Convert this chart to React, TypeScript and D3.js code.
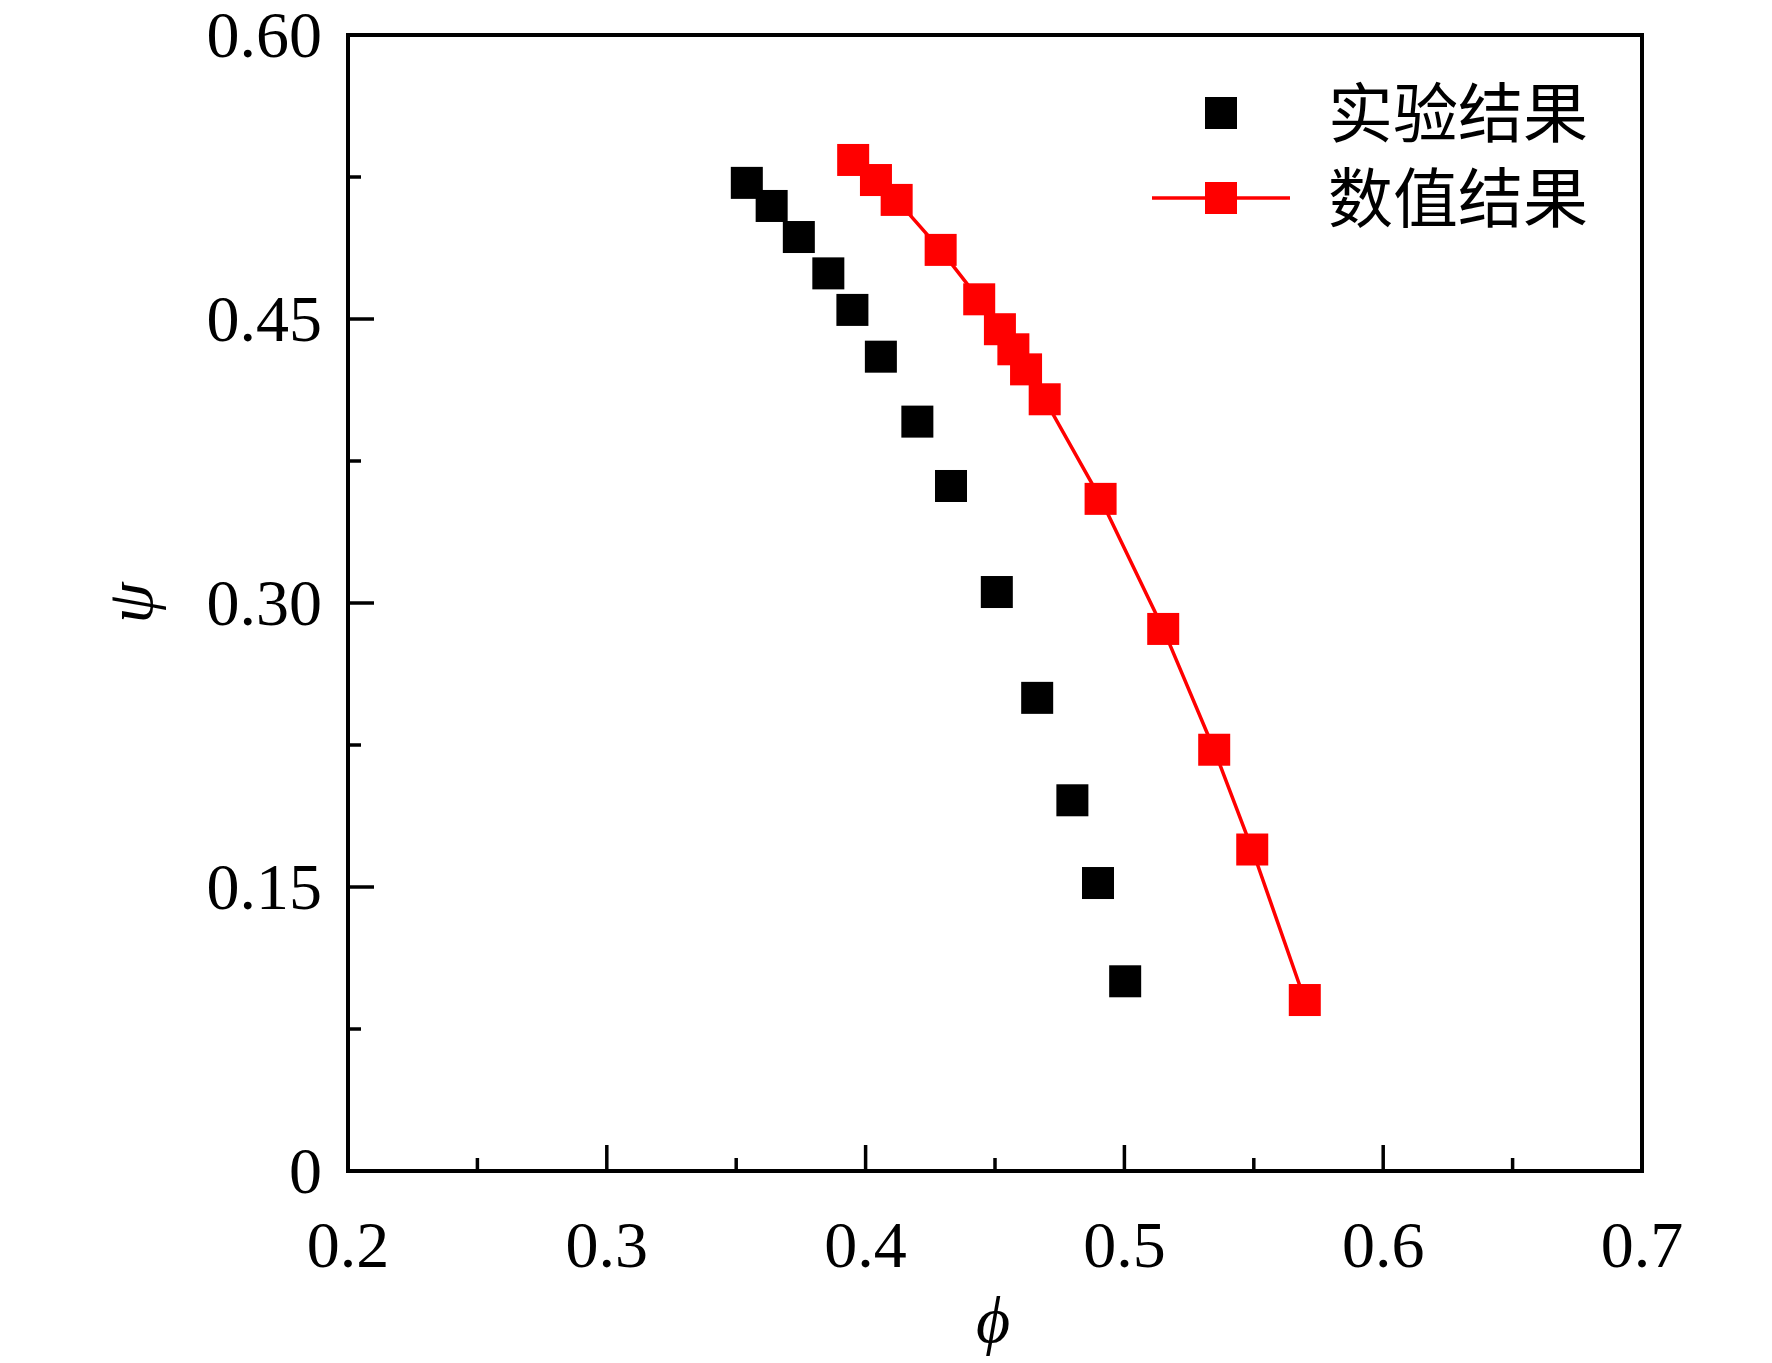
import React from "react";
import * as d3 from "d3";

const expPhi = [0.3541, 0.3637, 0.3742, 0.3856, 0.3949, 0.4059, 0.42, 0.433, 0.4507, 0.4663, 0.4799, 0.4898, 0.5003];
const expPsi = [0.5219, 0.5097, 0.4933, 0.4741, 0.4548, 0.4301, 0.3958, 0.3618, 0.3058, 0.2499, 0.1958, 0.1521, 0.1002];

const numPhi = [0.3952, 0.404, 0.412, 0.429, 0.4439, 0.4519, 0.4571, 0.462, 0.4692, 0.4908, 0.515, 0.5347, 0.5494, 0.5697];
const numPsi = [0.534, 0.5234, 0.5129, 0.4865, 0.4604, 0.4446, 0.434, 0.4234, 0.4076, 0.355, 0.2863, 0.2225, 0.1698, 0.0903];

const xMajorTicks = [0.2, 0.3, 0.4, 0.5, 0.6, 0.7];
const xMinorTicks = [0.25, 0.35, 0.45, 0.55, 0.65];
const yMajorTicks = [0, 0.15, 0.3, 0.45, 0.6];
const yMinorTicks = [0.075, 0.225, 0.375, 0.525];
const yTickLabels = ["0", "0.15", "0.30", "0.45", "0.60"];

const seriesNames = ["实验结果", "数值结果"];

const W = 1772;
const H = 1363;
const left = 348;
const right = 1642;
const top = 35;
const bottom = 1171;

export default function App() {
  const x = d3.scaleLinear().domain([0.2, 0.7]).range([left, right]);
  const y = d3.scaleLinear().domain([0, 0.6]).range([bottom, top]);
  const sq = 32;
  const numPts = numPhi.map((p, i) => [p, numPsi[i]] as [number, number]);
  const line = d3
    .line<[number, number]>()
    .x((d) => x(d[0]))
    .y((d) => y(d[1]));
  const serif = "'Liberation Serif', 'Times New Roman', serif";
  const cjk = "'Noto Sans CJK SC', sans-serif";
  const fs = 66;

  return (
    <svg
      width={W}
      height={H}
      viewBox={`0 0 ${W} ${H}`}
      style={{ position: "absolute", left: 0, top: 0, background: "#fff" }}
    >
      <rect x={0} y={0} width={W} height={H} fill="#fff" />
      {xMajorTicks.map((t) => (
        <line key={"xm" + t} x1={x(t)} x2={x(t)} y1={bottom} y2={bottom - 26} stroke="#000" strokeWidth={3.5} />
      ))}
      {xMinorTicks.map((t) => (
        <line key={"xn" + t} x1={x(t)} x2={x(t)} y1={bottom} y2={bottom - 13} stroke="#000" strokeWidth={3.5} />
      ))}
      {yMajorTicks.map((t) => (
        <line key={"ym" + t} x1={left} x2={left + 26} y1={y(t)} y2={y(t)} stroke="#000" strokeWidth={3.5} />
      ))}
      {yMinorTicks.map((t) => (
        <line key={"yn" + t} x1={left} x2={left + 13} y1={y(t)} y2={y(t)} stroke="#000" strokeWidth={3.5} />
      ))}
      <rect x={left} y={top} width={right - left} height={bottom - top} fill="none" stroke="#000" strokeWidth={4} />
      {xMajorTicks.map((t) => (
        <text key={"xl" + t} x={x(t)} y={1267} textAnchor="middle" fontFamily={serif} fontSize={fs} fill="#000">
          {t.toFixed(1)}
        </text>
      ))}
      {yMajorTicks.map((t, i) => (
        <text
          key={"yl" + t}
          x={322}
          y={y(t)}
          dy="0.34em"
          textAnchor="end"
          fontFamily={serif}
          fontSize={fs}
          fill="#000"
        >
          {yTickLabels[i]}
        </text>
      ))}
      <text x={(left + right) / 2 - 2} y={1342} textAnchor="middle" fontFamily={serif} fontStyle="italic" fontSize={fs} fill="#000">
        ϕ
      </text>
      <text
        transform={`translate(152, ${(top + bottom) / 2}) rotate(-90)`}
        textAnchor="middle"
        fontFamily={serif}
        fontStyle="italic"
        fontSize={fs}
        fill="#000"
      >
        ψ
      </text>
      <path d={line(numPts) || ""} fill="none" stroke="#ff0000" strokeWidth={3.5} />
      {expPhi.map((p, i) => (
        <rect key={"e" + i} x={x(p) - sq / 2} y={y(expPsi[i]) - sq / 2} width={sq} height={sq} fill="#000" />
      ))}
      {numPts.map((d, i) => (
        <rect key={"n" + i} x={x(d[0]) - sq / 2} y={y(d[1]) - sq / 2} width={sq} height={sq} fill="#ff0000" />
      ))}
      <rect x={1221 - sq / 2} y={113 - sq / 2} width={sq} height={sq} fill="#000" />
      <line x1={1152} x2={1290} y1={198} y2={198} stroke="#ff0000" strokeWidth={3.5} />
      <rect x={1221 - sq / 2} y={198 - sq / 2} width={sq} height={sq} fill="#ff0000" />
      <text x={1328} y={114} dy="0.36em" fontFamily={cjk} fontSize={65} fill="#000">
        {seriesNames[0]}
      </text>
      <text x={1328} y={199} dy="0.36em" fontFamily={cjk} fontSize={65} fill="#000">
        {seriesNames[1]}
      </text>
    </svg>
  );
}
